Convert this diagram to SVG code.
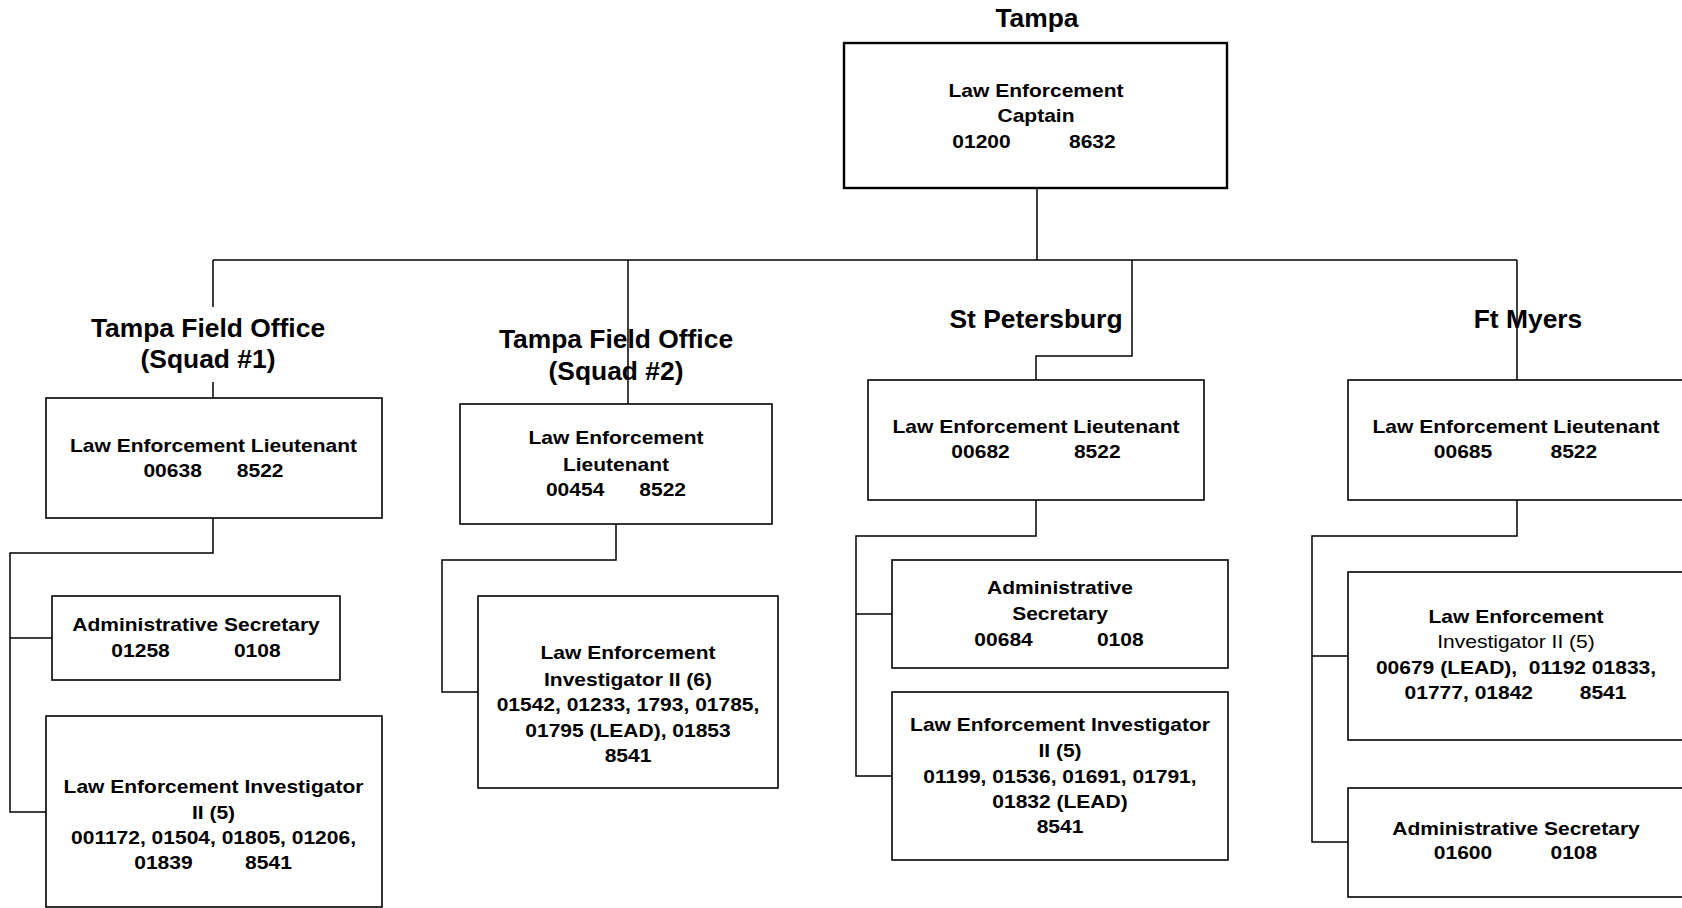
<svg xmlns="http://www.w3.org/2000/svg" width="1682" height="908" viewBox="0 0 1682 908">
  <style>
    .bg { fill: #ffffff; }
    .box { fill: #ffffff; stroke: #000000; stroke-width: 1.6; }
    .box-top { fill: #ffffff; stroke: #000000; stroke-width: 2.4; }
    .conn { fill: none; stroke: #000000; stroke-width: 1.5; }
    .title { font-family: "Liberation Sans", Arial, sans-serif; font-weight: bold; font-size: 26.4px; text-anchor: middle; fill: #000000; }
    .b { font-family: "Liberation Sans", Arial, sans-serif; font-weight: bold; font-size: 18.6px; text-anchor: middle; fill: #000000; white-space: pre; }
    .r { font-family: "Liberation Sans", Arial, sans-serif; font-weight: normal; font-size: 18.6px; text-anchor: middle; fill: #000000; white-space: pre; }
  </style>

  <rect class="bg" x="0" y="0" width="1682" height="908"/>

  <!-- connectors -->
  <g id="connectors">
    <path class="conn" d="M1037,188 V260"/>
    <path class="conn" d="M213,260 H1517"/>
    <path class="conn" d="M213,260 V307 M213,382 V398"/>
    <path class="conn" d="M628,260 V404"/>
    <path class="conn" d="M1132,260 V356 H1036 V380"/>
    <path class="conn" d="M1517,260 V380"/>
    <path class="conn" d="M213,518 V553 H10 V812 H46 M10,638 H52"/>
    <path class="conn" d="M616,524 V560 H442 V692 H478"/>
    <path class="conn" d="M1036,500 V536 H856 V776 H892 M856,614 H892"/>
    <path class="conn" d="M1517,500 V536 H1312 V842 H1348 M1312,656 H1348"/>
  </g>

  <!-- group labels -->
  <g id="labels">
    <text class="title" x="1037" y="27">Tampa</text>
    <text class="title" x="208" y="337">Tampa Field Office</text>
    <text class="title" x="208" y="368">(Squad #1)</text>
    <text class="title" x="616" y="348">Tampa Field Office</text>
    <text class="title" x="616" y="380">(Squad #2)</text>
    <text class="title" x="1036" y="328">St Petersburg</text>
    <text class="title" x="1528" y="328">Ft Myers</text>
  </g>

  <!-- Tampa captain -->
  <g id="captain">
    <rect class="box-top" x="844" y="43" width="383" height="145"/>
    <text class="b" transform="translate(1036,97) scale(1.13,1)">Law Enforcement</text>
    <text class="b" transform="translate(1036,122) scale(1.13,1)">Captain</text>
    <text class="b" xml:space="preserve" transform="translate(1034,148) scale(1.13,1)">01200          8632</text>
  </g>

  <!-- Tampa Field Office, squad 1 -->
  <g id="sq1-lieutenant">
    <rect class="box" x="46" y="398" width="336" height="120"/>
    <text class="b" transform="translate(213.5,452) scale(1.13,1)">Law Enforcement Lieutenant</text>
    <text class="b" xml:space="preserve" transform="translate(213.5,477) scale(1.13,1)">00638      8522</text>
  </g>
  <g id="sq1-secretary">
    <rect class="box" x="52" y="596" width="288" height="84"/>
    <text class="b" transform="translate(196,631) scale(1.13,1)">Administrative Secretary</text>
    <text class="b" xml:space="preserve" transform="translate(196,657) scale(1.13,1)">01258           0108</text>
  </g>
  <g id="sq1-investigator">
    <rect class="box" x="46" y="716" width="336" height="191"/>
    <text class="b" transform="translate(213.5,793) scale(1.13,1)">Law Enforcement Investigator</text>
    <text class="b" transform="translate(213.5,819) scale(1.13,1)">II (5)</text>
    <text class="b" transform="translate(213.5,844) scale(1.13,1)">001172, 01504, 01805, 01206,</text>
    <text class="b" xml:space="preserve" transform="translate(213,869) scale(1.13,1)">01839         8541</text>
  </g>

  <!-- Tampa Field Office, squad 2 -->
  <g id="sq2-lieutenant">
    <rect class="box" x="460" y="404" width="312" height="120"/>
    <text class="b" transform="translate(616,444) scale(1.13,1)">Law Enforcement</text>
    <text class="b" transform="translate(616,471) scale(1.13,1)">Lieutenant</text>
    <text class="b" xml:space="preserve" transform="translate(616,496) scale(1.13,1)">00454      8522</text>
  </g>
  <g id="sq2-investigator">
    <rect class="box" x="478" y="596" width="300" height="192"/>
    <text class="b" transform="translate(628,659) scale(1.13,1)">Law Enforcement</text>
    <text class="b" transform="translate(628,686) scale(1.13,1)">Investigator II (6)</text>
    <text class="b" transform="translate(628,711) scale(1.13,1)">01542, 01233, 1793, 01785,</text>
    <text class="b" transform="translate(628,737) scale(1.13,1)">01795 (LEAD), 01853</text>
    <text class="b" transform="translate(628,762) scale(1.13,1)">8541</text>
  </g>

  <!-- St Petersburg -->
  <g id="stp-lieutenant">
    <rect class="box" x="868" y="380" width="336" height="120"/>
    <text class="b" transform="translate(1036,433) scale(1.13,1)">Law Enforcement Lieutenant</text>
    <text class="b" xml:space="preserve" transform="translate(1036,458) scale(1.13,1)">00682           8522</text>
  </g>
  <g id="stp-secretary">
    <rect class="box" x="892" y="560" width="336" height="108"/>
    <text class="b" transform="translate(1060,594) scale(1.13,1)">Administrative</text>
    <text class="b" transform="translate(1060,620) scale(1.13,1)">Secretary</text>
    <text class="b" xml:space="preserve" transform="translate(1059,646) scale(1.13,1)">00684           0108</text>
  </g>
  <g id="stp-investigator">
    <rect class="box" x="892" y="692" width="336" height="168"/>
    <text class="b" transform="translate(1060,731) scale(1.13,1)">Law Enforcement Investigator</text>
    <text class="b" transform="translate(1060,757) scale(1.13,1)">II (5)</text>
    <text class="b" transform="translate(1060,783) scale(1.13,1)">01199, 01536, 01691, 01791,</text>
    <text class="b" transform="translate(1060,808) scale(1.13,1)">01832 (LEAD)</text>
    <text class="b" transform="translate(1060,833) scale(1.13,1)">8541</text>
  </g>

  <!-- Ft Myers -->
  <g id="ftm-lieutenant">
    <rect class="box" x="1348" y="380" width="336" height="120"/>
    <text class="b" transform="translate(1516,433) scale(1.13,1)">Law Enforcement Lieutenant</text>
    <text class="b" xml:space="preserve" transform="translate(1515.5,458) scale(1.13,1)">00685          8522</text>
  </g>
  <g id="ftm-investigator">
    <rect class="box" x="1348" y="572" width="336" height="168"/>
    <text class="b" transform="translate(1516,623) scale(1.13,1)">Law Enforcement</text>
    <text class="r" transform="translate(1516,648) scale(1.13,1)">Investigator II (5)</text>
    <text class="b" xml:space="preserve" transform="translate(1516,674) scale(1.13,1)">00679 (LEAD),  01192 01833,</text>
    <text class="b" xml:space="preserve" transform="translate(1515.5,699) scale(1.13,1)">01777, 01842        8541</text>
  </g>
  <g id="ftm-secretary">
    <rect class="box" x="1348" y="788" width="336" height="109"/>
    <text class="b" transform="translate(1516,835) scale(1.13,1)">Administrative Secretary</text>
    <text class="b" xml:space="preserve" transform="translate(1515.5,859) scale(1.13,1)">01600          0108</text>
  </g>
</svg>
